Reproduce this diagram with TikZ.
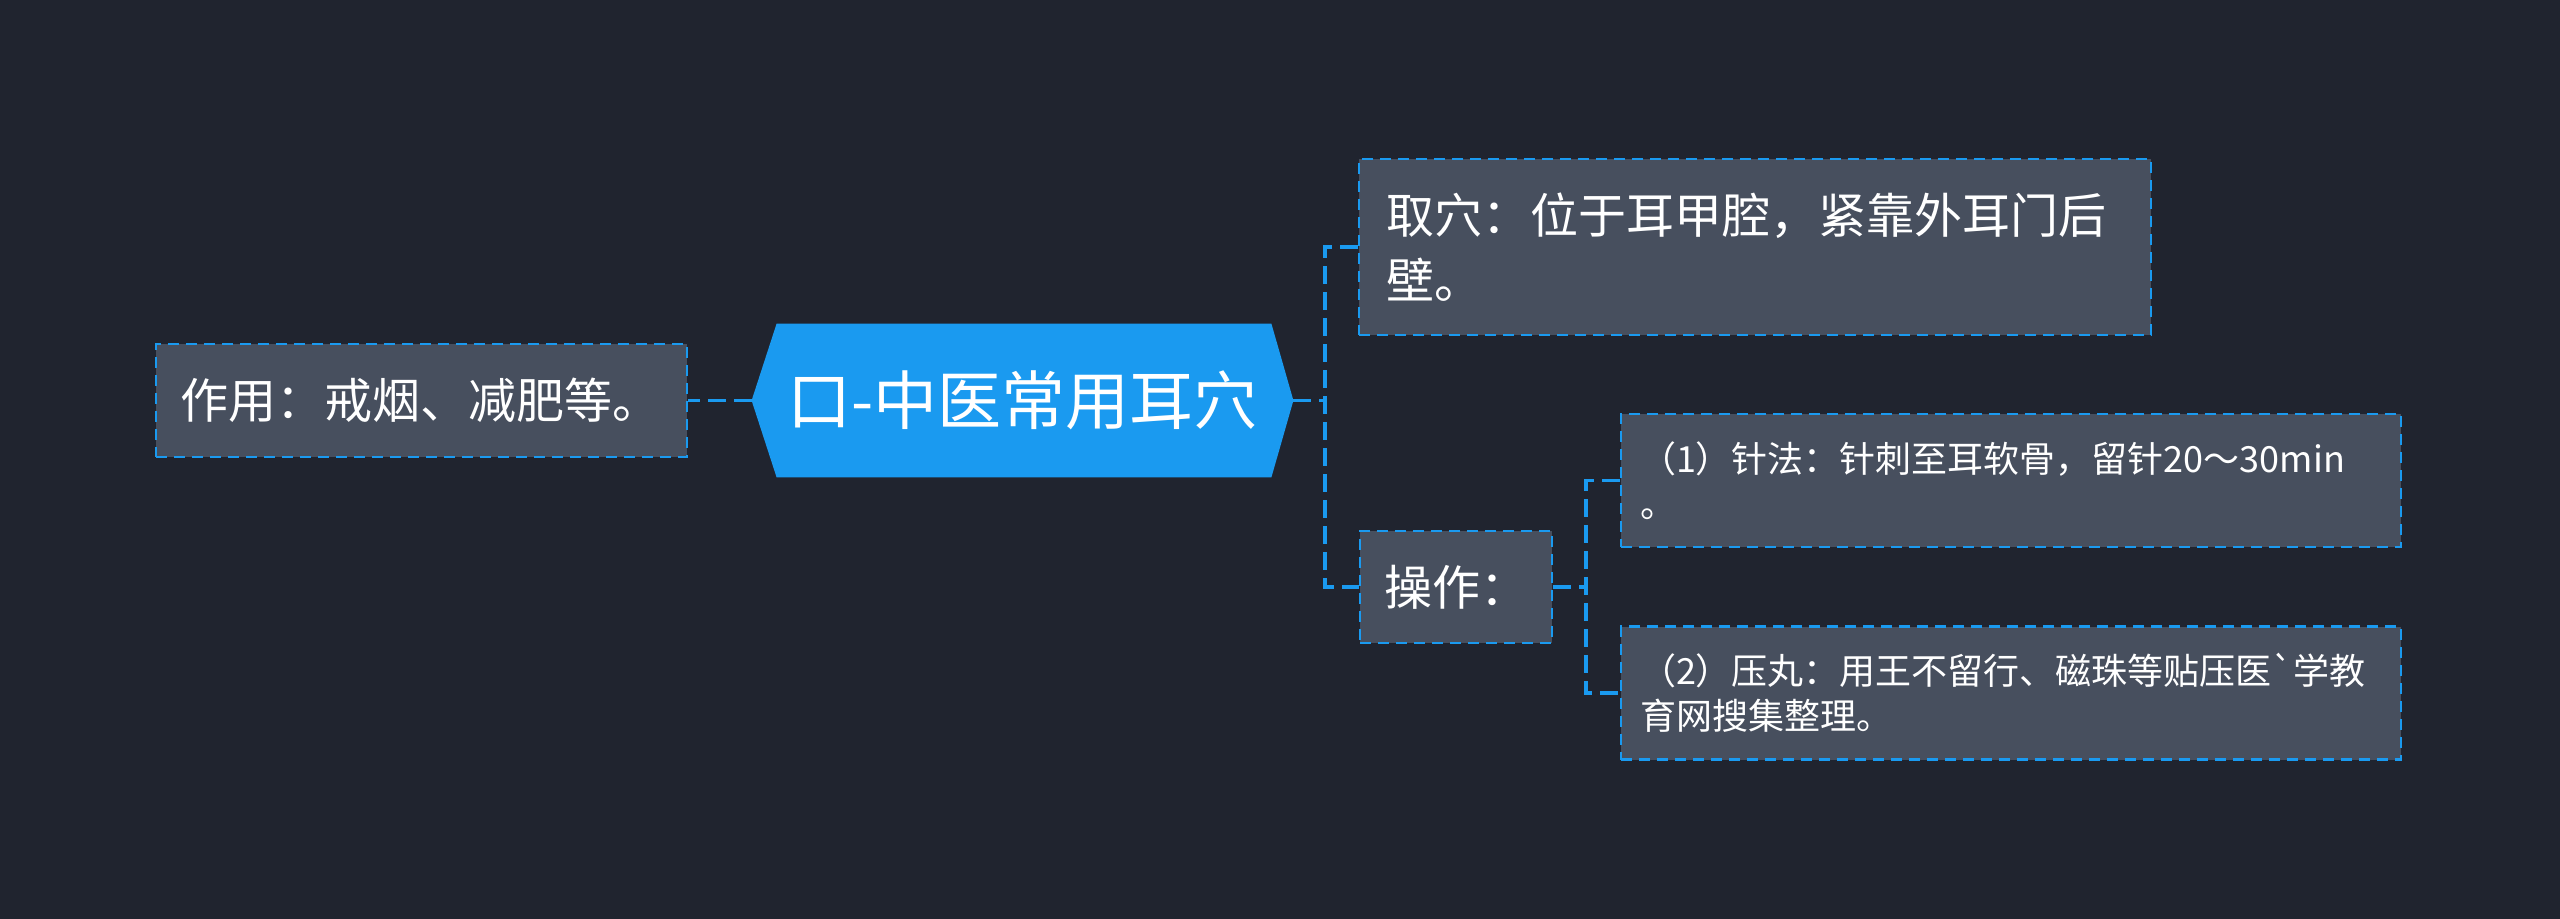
\documentclass[tikz,border=0pt]{standalone}
\usepackage{fontspec}
\setmainfont{Noto Sans CJK SC}[Ligatures=TeXOff]
\usetikzlibrary{backgrounds}
\definecolor{mapbg}{HTML}{20242F}
\definecolor{boxfill}{HTML}{474F5E}
\definecolor{mapblue}{HTML}{1A9AF0}
\tikzset{
  x=0.5pt, y=-0.5pt,
  mapnode/.style = {align=left, text=white, inner ysep=0pt, anchor=center},
  root_node/.style = {mapnode, align=center, inner sep=0pt,
    minimum width=270.5pt, minimum height=76.5pt,
    font=\fontsize{32pt}{38pt}\selectfont},% centre, hexagone bleu
  leaf_node/.style = {mapnode, draw=mapblue, fill=boxfill, line width=1.4pt,
    dash pattern=on 5.5pt off 3.5pt, inner xsep=12pt,
    font=\fontsize{24pt}{32.5pt}\selectfont},% branche principale
  small_leaf/.style = {leaf_node, inner xsep=9.5pt, text width=371pt,
    minimum height=66.5pt, font=\fontsize{18pt}{22.5pt}\selectfont},% sous-branche
  branch_line/.style = {draw=mapblue, line width=1.6pt,
    dash pattern=on 9pt off 4pt}
}
\begin{document}
\begin{tikzpicture}
  \begin{pgfonlayer}{background}
    \fill[mapbg] (0,0) rectangle (2560,919);
  \end{pgfonlayer}
  \node [root_node] (root) at (1022.5,400.5) {口-中医常用耳穴};
  \begin{pgfonlayer}{background}
    \fill[mapblue] (root.west) -- ([xshift=12.5pt]root.north west)
      -- ([xshift=-11pt]root.north east) -- (root.east)
      -- ([xshift=-11pt]root.south east) -- ([xshift=12.5pt]root.south west) -- cycle;
  \end{pgfonlayer}
  \node [leaf_node, text width=241.5pt, minimum height=56.5pt] (effect) at (421.5,400.5)
    {作用：戒烟、减肥等。};
  \node [leaf_node, inner xsep=13.5pt, text width=369pt, minimum height=88pt] (acupoint) at (1755,247)
    {取穴：位于耳甲腔，紧靠外耳门后\\壁。};
  \node [leaf_node, text width=72pt, minimum height=56pt] (operate) at (1456,587)
    {操作：};
  \node [small_leaf] (needle) at (2011,480.5)
    {（1）针法：针刺至耳软骨，留针20～30min\\。};
  \node [small_leaf] (pellet) at (2011,693)
    {（2）压丸：用王不留行、磁珠等贴压医`学教\\育网搜集整理。};
  % connecteurs
  \coordinate (fork1) at (1325,0);
  \coordinate (fork2) at (1586,0);
  \draw [branch_line] (root.west) -- (effect.east);
  \draw [branch_line] (root.east) -- (root.east -| fork1);
  \draw [branch_line] (acupoint.west) -- (acupoint.west -| fork1)
    -- (operate.west -| fork1) -- (operate.west);
  \draw [branch_line] (operate.east) -- (operate.east -| fork2);
  \draw [branch_line] (needle.west) -- (needle.west -| fork2)
    -- (pellet.west -| fork2) -- (pellet.west);
\end{tikzpicture}
\end{document}
